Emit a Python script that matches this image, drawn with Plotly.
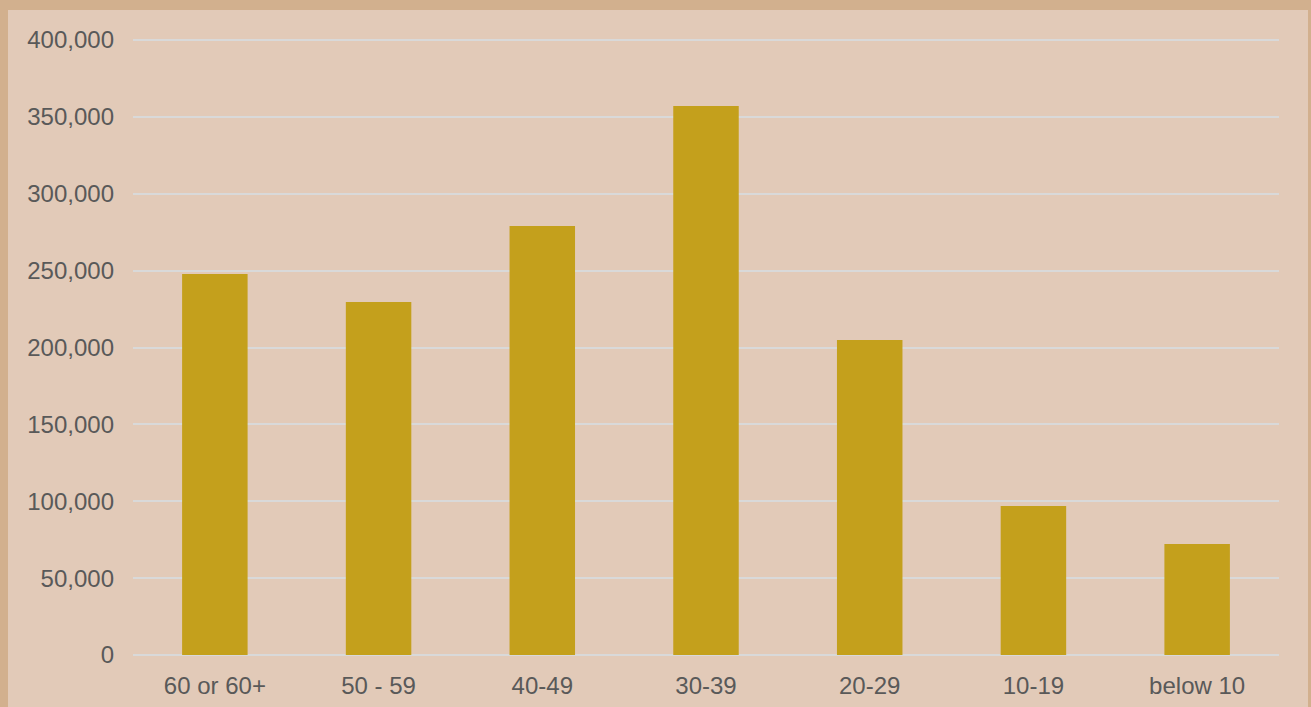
import plotly.graph_objects as go

# Age groups and counts
categories = ["60 or 60+", "50 - 59", "40-49", "30-39", "20-29", "10-19", "below 10"]
counts = [247800, 229600, 279000, 357100, 204900, 96900, 72200]
y_ticks = [0, 50000, 100000, 150000, 200000, 250000, 300000, 350000, 400000]
y_max = 401300  # a little headroom so the 400,000 gridline is drawn

W, H = 1311, 707
ML, MR, MT, MB = 133, 32, 38, 52
plot_w = W - ML - MR
plot_h = H - MT - MB

border = "#D2B08E"
inner = "#E2CAB8"
grid = "#D9D9D9"
text_col = "#595959"

fig = go.Figure(
    go.Bar(
        x=categories,
        y=counts,
        marker=dict(color="#C4A01C", line=dict(width=0)),
        hoverinfo="x+y",
    )
)

# inner panel inside the tan frame
fig.add_shape(
    type="rect", xref="paper", yref="paper", layer="below",
    x0=(8 - ML) / plot_w, x1=(1308 - ML) / plot_w,
    y0=-(MB + 5) / plot_h, y1=(H - MB - 10) / plot_h,
    fillcolor=inner, line=dict(width=0),
)

fig.update_layout(
    width=W, height=H,
    margin=dict(l=ML, r=MR, t=MT, b=MB),
    paper_bgcolor=border,
    plot_bgcolor="rgba(0,0,0,0)",
    bargap=0.6,
    showlegend=False,
    font=dict(family="Liberation Sans, Arial, sans-serif", size=24, color=text_col),
    xaxis=dict(
        showgrid=False, showline=False, zeroline=False,
        ticks="", ticklabelstandoff=14, automargin=False,
        tickfont=dict(size=24, color=text_col),
    ),
    yaxis=dict(
        range=[0, y_max],
        tickvals=y_ticks,
        tickformat=",d",
        showgrid=True, gridcolor=grid, gridwidth=2,
        zeroline=True, zerolinecolor=grid, zerolinewidth=2,
        showline=False, ticks="", ticklabelstandoff=18, automargin=False,
        tickfont=dict(size=24, color=text_col),
    ),
)

fig.write_html("out.html")
